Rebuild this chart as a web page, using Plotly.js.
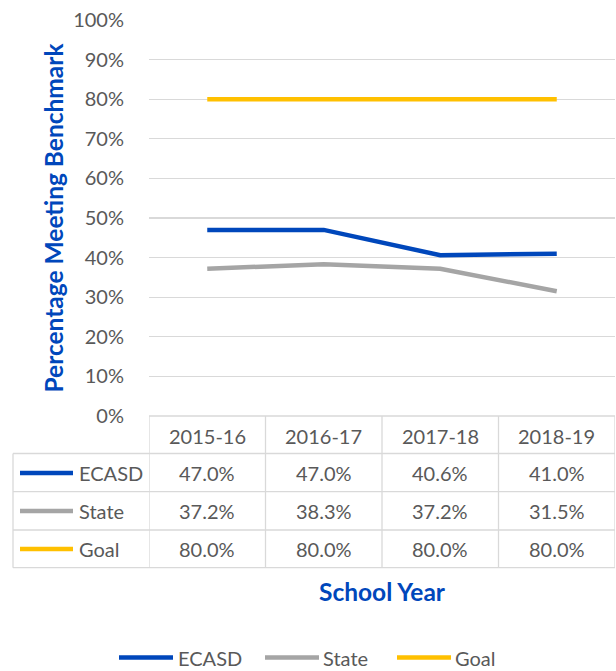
<!DOCTYPE html>
<html>
<head>
<meta charset="utf-8">
<script src="https://cdn.plot.ly/plotly-3.0.1.min.js"></script>
<style>html,body{margin:0;padding:0;background:#fff;}#chart{width:616px;height:671px;}</style>
</head>
<body>
<div id="chart"></div>
<script>
// ---- data ----
const years = ['2015-16', '2016-17', '2017-18', '2018-19'];
const seriesNames = ['ECASD', 'State', 'Goal'];
const ecasd = [0.470, 0.470, 0.406, 0.410];
const state = [0.372, 0.383, 0.372, 0.315];
const goal = [0.800, 0.800, 0.800, 0.800];
const yTickVals = [0, 0.1, 0.2, 0.3, 0.4, 0.5, 0.6, 0.7, 0.8, 0.9, 1.0];

// ---- styling ----
const colors = ['#0047BB', '#A5A5A5', '#FFC000'];
const textColor = '#595959';
const gridColor = '#D9D9D9';
const titleColor = '#0047BB';
const FONT = 'Lato, "Open Sans", sans-serif';
const W = 616, H = 671;
const M = {l: 149, r: 1, t: 20, b: 255};
const plotW = W - M.l - M.r, plotH = H - M.t - M.b;
const px = x => (x - M.l) / plotW;            // pixel x -> paper x
const py = y => (H - M.b - y) / plotH;          // pixel y -> paper y

const values = [ecasd, state, goal];
const traces = values.map((v, i) => ({
  type: 'scatter', mode: 'lines', x: years, y: v, name: seriesNames[i],
  line: {color: colors[i], width: 4.5}, hoverinfo: 'skip', showlegend: false
}));

// table geometry (pixels)
const rowLines = [416, 453.5, 491.7, 530, 567.7];
const rowCenters = [436, 473, 511, 549];
const leftEdge = 13;

const shapes = [];
const annotations = [];
const gl = {color: gridColor, width: 1.3};
const txt = (o) => Object.assign({showarrow: false, yanchor: 'middle', borderpad: 0,
  font: {family: FONT, size: 20, color: textColor}}, o);

// horizontal lines
shapes.push({type: 'line', xref: 'x', yref: 'paper', x0: -0.5, x1: years.length - 0.5,
  y0: py(rowLines[0]), y1: py(rowLines[0]), line: gl});
for (let r = 1; r < rowLines.length; r++) {
  shapes.push({type: 'line', xref: 'paper', yref: 'paper', x0: px(leftEdge), x1: 1,
    y0: py(rowLines[r]), y1: py(rowLines[r]), line: gl});
}
// vertical lines
for (let c = 0; c <= years.length; c++) {
  shapes.push({type: 'line', xref: 'x', yref: 'paper', x0: c - 0.5, x1: c - 0.5,
    y0: py(rowLines[0]), y1: py(rowLines[rowLines.length - 1]), line: gl});
}
shapes.push({type: 'line', xref: 'paper', yref: 'paper', x0: px(leftEdge), x1: px(leftEdge),
  y0: py(rowLines[1]), y1: py(rowLines[rowLines.length - 1]), line: gl});

// header
years.forEach((yr, c) => annotations.push(txt({xref: 'x', yref: 'paper', x: c, xanchor: 'center',
  y: py(rowCenters[0]), text: yr})));

// rows
values.forEach((v, r) => {
  const yc = py(rowCenters[r + 1]);
  shapes.push({type: 'line', xref: 'paper', yref: 'paper', x0: px(20), x1: px(73), y0: yc, y1: yc,
    line: {color: colors[r], width: 4.5}});
  annotations.push(txt({xref: 'paper', yref: 'paper', x: px(78), y: yc, xanchor: 'left',
    text: seriesNames[r]}));
  v.forEach((val, c) => annotations.push(txt({xref: 'x', yref: 'paper', x: c, xanchor: 'center', y: yc,
    text: (val * 100).toFixed(1) + '%'})));
});

// x title
annotations.push(txt({xref: 'paper', yref: 'paper', x: 0.5, xanchor: 'center', y: py(591),
  text: '<b>School Year</b>', font: {family: FONT, size: 24.5, color: titleColor}}));

// bottom legend
const legX = [[119, 173, 177], [265, 319, 322], [397, 451, 454]];
const legY = py(657.5);
seriesNames.forEach((n, i) => {
  shapes.push({type: 'line', xref: 'paper', yref: 'paper', x0: px(legX[i][0]), x1: px(legX[i][1]),
    y0: legY, y1: legY, line: {color: colors[i], width: 4.5}});
  annotations.push(txt({xref: 'paper', yref: 'paper', x: px(legX[i][2]), y: legY, xanchor: 'left',
    text: n}));
});

const layout = {
  width: W, height: H, margin: M,
  paper_bgcolor: '#fff', plot_bgcolor: '#fff',
  font: {family: FONT, size: 20, color: textColor},
  showlegend: false,
  xaxis: {type: 'category', range: [-0.5, years.length - 0.5], showticklabels: false,
    showgrid: false, zeroline: false, showline: false, ticks: '', fixedrange: true},
  yaxis: {range: [0, 1], tickvals: yTickVals, tickformat: '.0%', showgrid: true, gridcolor: gridColor,
    gridwidth: 1.3, zeroline: false, showline: false, ticks: 'outside', ticklen: 20,
    tickcolor: 'rgba(0,0,0,0)', tickfont: {family: FONT, size: 20, color: textColor},
    title: {text: '<b>Percentage Meeting Benchmark</b>', standoff: 2,
      font: {family: FONT, size: 24.5, color: titleColor}}, automargin: false, fixedrange: true},
  shapes: shapes, annotations: annotations
};

Plotly.newPlot('chart', traces, layout, {displayModeBar: false, staticPlot: true});
</script>
</body>
</html>
